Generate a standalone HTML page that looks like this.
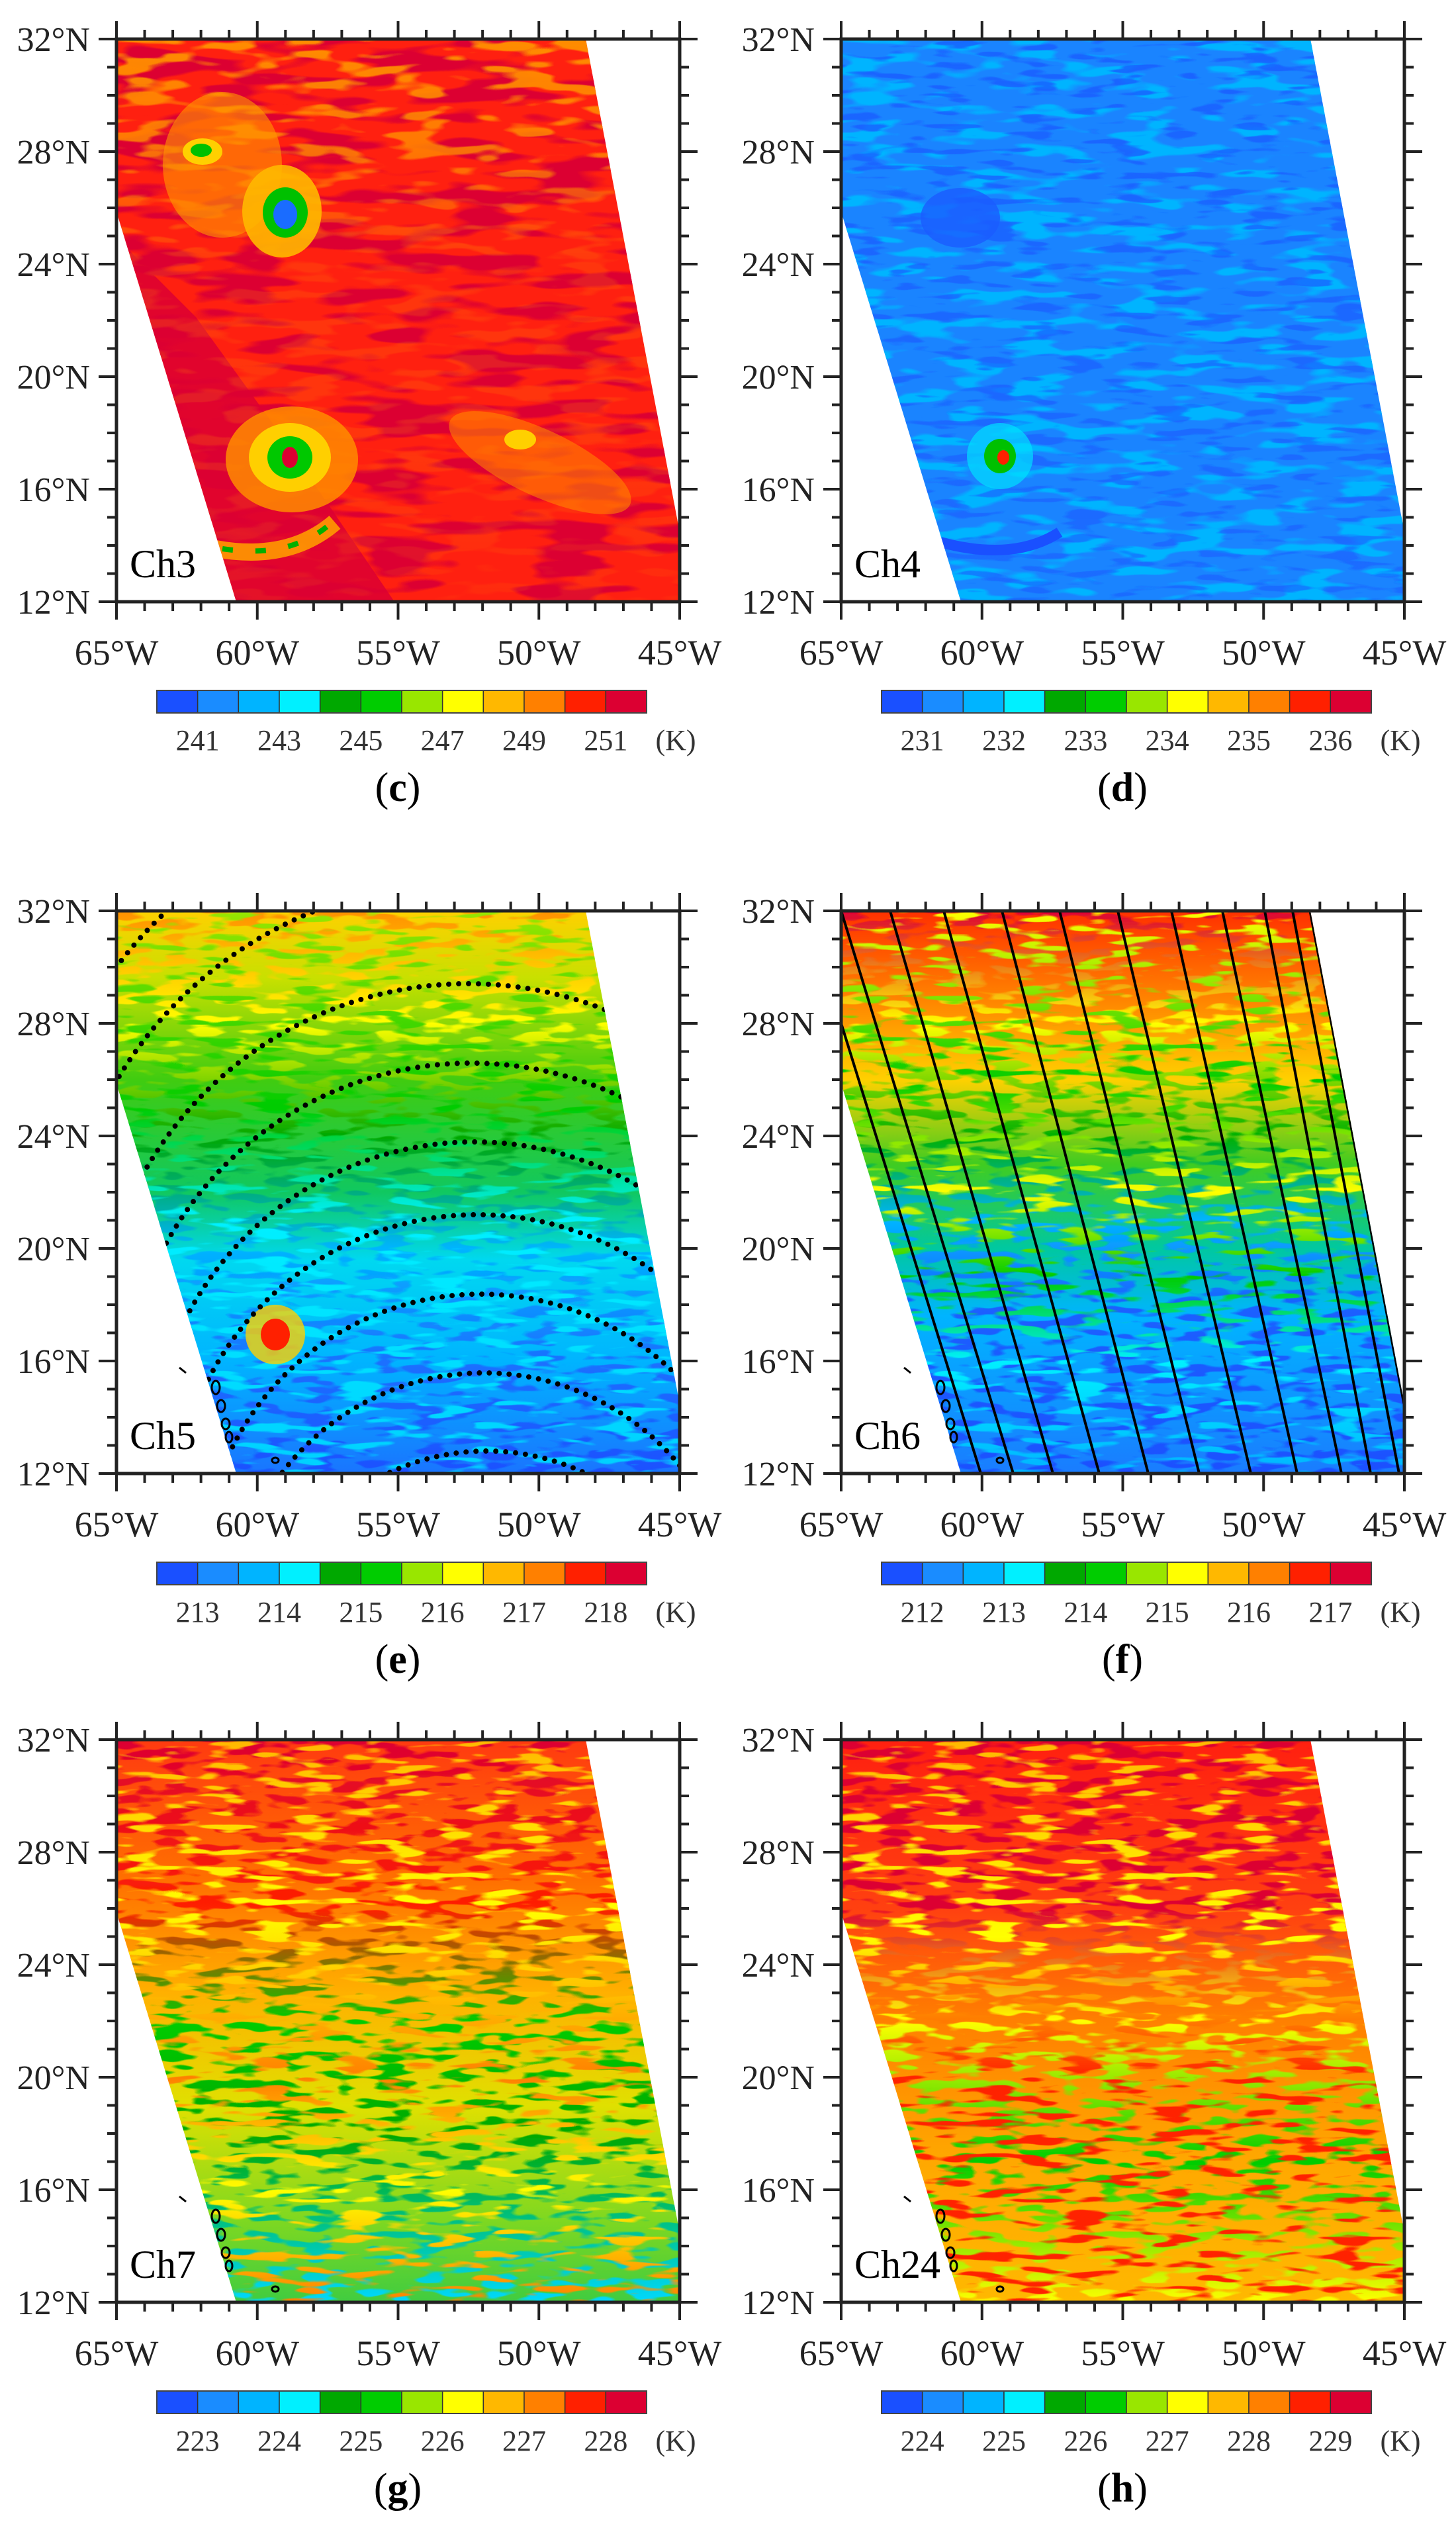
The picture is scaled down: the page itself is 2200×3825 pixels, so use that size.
<!DOCTYPE html>
<html><head><meta charset="utf-8">
<style>html,body{margin:0;padding:0;background:#fff;}svg{display:block;}</style>
</head><body>
<svg id="s" xmlns="http://www.w3.org/2000/svg" width="2200" height="3825" viewBox="0 0 2200 3825"></svg>
<script>
const W=851,H=850;
const CB=['#1a50ff','#1a8cff','#00b4ff','#00f0ff','#00a800','#00cc00','#99e600','#ffff00','#ffb800','#ff8000','#ff2000','#dc0032'];
const sw="0,0 709,0 851,745 851,850 181,850 0,261";
let defs=`<clipPath id="sw"><polygon points="${sw}"/></clipPath>`;
function nf(id,fx,fy,seed,th){defs+=`<filter id="${id}" x="0" y="0" width="1" height="1"><feTurbulence type="fractalNoise" baseFrequency="${fx} ${fy}" numOctaves="2" seed="${seed}"/><feColorMatrix type="matrix" values="0 0 0 0 0 0 0 0 0 0 0 0 0 0 0 10 0 0 0 ${-th}"/><feComposite in="SourceGraphic" operator="in"/></filter>`;}
nf('n1',0.008,0.04,3,5.0);nf('n2',0.012,0.05,7,5.3);nf('n3',0.018,0.07,11,5.2);nf('n4',0.015,0.08,19,5.6);
let gid=0;
function grad(stops){const id='g'+(gid++);defs+=`<linearGradient id="${id}" x1="0" y1="0" x2="0" y2="1">`+stops.map(s=>`<stop offset="${s[0]}" stop-color="${s[1]}" stop-opacity="${s[2]===undefined?1:s[2]}"/>`).join('')+`</linearGradient>`;return id;}
function layer(stops,f){return `<rect x="0" y="0" width="${W}" height="${H}" fill="url(#${grad(stops)})" filter="url(#${f})"/>`;}
function base(stops){return `<rect x="0" y="0" width="${W}" height="${H}" fill="url(#${grad(stops)})"/>`;}
const panels=[
{x:176,y:59,ch:'Ch3',lab:'c',ticks:[241,243,245,247,249,251],
 body:()=>base([[0,'#ff2010']])+layer([[0,'#dc0032'],[1,'#dc0032']],'n1')+
 `<polygon points="0,261 181,850 420,850 250,600 120,420 0,300" fill="#dc0032" opacity="0.85"/>`+
 layer([[0,'#ff8c00',1],[0.2,'#ff8c00',0.8],[0.4,'#ff8c00',0.2],[0.7,'#ff8c00',0.2],[1,'#ff8c00',0.1]],'n2')+
 `<ellipse cx="160" cy="190" rx="90" ry="110" fill="#ff9a00" opacity="0.6"/><ellipse cx="250" cy="260" rx="60" ry="70" fill="#ffb800" opacity="0.9"/><ellipse cx="255" cy="262" rx="34" ry="38" fill="#00c000"/><ellipse cx="255" cy="265" rx="18" ry="22" fill="#1a6cff"/>
 <ellipse cx="130" cy="170" rx="30" ry="20" fill="#ffd000"/><ellipse cx="128" cy="168" rx="16" ry="10" fill="#00c000"/>
 <ellipse cx="265" cy="635" rx="100" ry="80" fill="#ff8c00" opacity="0.85"/><ellipse cx="262" cy="632" rx="62" ry="52" fill="#ffd800" opacity="0.9"/><ellipse cx="262" cy="632" rx="34" ry="32" fill="#00c800"/><ellipse cx="262" cy="632" rx="12" ry="16" fill="#dc0032"/>
 <path d="M150,770 Q260,790 330,730" stroke="#ff9a00" stroke-width="26" fill="none" opacity="0.9"/><path d="M160,770 Q260,785 320,735" stroke="#00b000" stroke-width="8" fill="none" stroke-dasharray="16 34"/>
 <ellipse cx="640" cy="640" rx="150" ry="50" fill="#ff8c00" opacity="0.55" transform="rotate(25 640 640)"/><ellipse cx="610" cy="605" rx="24" ry="15" fill="#ffd000"/>`},
{x:1271,y:59,ch:'Ch4',lab:'d',ticks:[231,232,233,234,235,236],
 body:()=>base([[0,'#1a84ff']])+layer([[0,'#00b4ff'],[1,'#00b4ff']],'n2')+layer([[0,'#1a5cff',0.8],[1,'#1a5cff',0.6]],'n4')+
 `<ellipse cx="180" cy="270" rx="60" ry="45" fill="#1a5cff" opacity="0.8"/><ellipse cx="240" cy="630" rx="50" ry="50" fill="#00e0ff" opacity="0.7"/><ellipse cx="240" cy="630" rx="24" ry="26" fill="#00c000"/><ellipse cx="245" cy="632" rx="9" ry="11" fill="#ff2000"/>
 <path d="M150,760 Q260,790 330,745" stroke="#1a50ff" stroke-width="16" fill="none"/>`},
{x:176,y:1376,ch:'Ch5',lab:'e',ticks:[213,214,215,216,217,218],
 body:()=>base([[0,'#ffd000'],[0.12,'#c8e000'],[0.3,'#40cc10'],[0.5,'#10c860'],[0.62,'#00d8f0'],[0.8,'#00b4ff'],[1,'#1a74ff']])+
 layer([[0,'#ff9000'],[0.2,'#ffff00'],[0.4,'#00a800'],[0.6,'#00b4ff'],[0.8,'#1a70ff'],[1,'#1a50ff']],'n3')+
 layer([[0,'#99e600'],[0.35,'#00cc00'],[0.55,'#00f0ff'],[1,'#00d0ff']],'n4')+
 `<ellipse cx="240" cy="640" rx="45" ry="45" fill="#ffd000" opacity="0.8"/><ellipse cx="240" cy="640" rx="22" ry="24" fill="#ff2000"/>`+
 [-175,-43,110,230,349,459,579,698,816].map(p=>{const r=597-0.306*p,cx=520+0.04*(p+175);return `<circle cx="${cx}" cy="${p+r}" r="${r}" fill="none" stroke="#000" stroke-width="8" stroke-linecap="round" stroke-dasharray="0 15"/>`}).join('')},
{x:1271,y:1376,ch:'Ch6',lab:'f',ticks:[212,213,214,215,216,217],
 body:()=>{let s=base([[0,'#ff3000'],[0.15,'#ff8000'],[0.3,'#ffd000'],[0.45,'#40cc20'],[0.6,'#00c8a0'],[0.72,'#00b4ff'],[1,'#1a7cff']])+
 layer([[0,'#dc0032'],[0.2,'#ffff00'],[0.4,'#00b000'],[0.55,'#00b4ff'],[0.7,'#1a60ff'],[1,'#1a50ff']],'n3')+
 layer([[0,'#ffff00'],[0.3,'#00cc00'],[0.5,'#ffff00'],[0.65,'#00cc00'],[0.8,'#00f0ff'],[1,'#00b4ff']],'n4');
 const T=[0,74,155,243,330,418,499,576,640,682],B=[260,320,390,464,541,619,689,756,800,843];
 s+=`<line x1="0" y1="170" x2="211" y2="850" stroke="#000" stroke-width="4"/>`;
 for(let i=0;i<T.length;i++)s+=`<line x1="${T[i]}" y1="0" x2="${B[i]}" y2="850" stroke="#000" stroke-width="4"/>`;
 s+=`<line x1="709" y1="0" x2="851" y2="745" stroke="#000" stroke-width="5"/>`;return s;}},
{x:176,y:2628,ch:'Ch7',lab:'g',ticks:[223,224,225,226,227,228],
 body:()=>base([[0,'#ff3a10'],[0.25,'#ff7000'],[0.45,'#ffb000'],[0.65,'#e0e000'],[0.85,'#80d820'],[1,'#40cc40']])+
 layer([[0,'#dc0032'],[0.3,'#ff2000'],[0.5,'#00cc00'],[0.7,'#00a800'],[1,'#00d8ff']],'n3')+
 layer([[0,'#ffb800'],[0.3,'#ffff00'],[0.6,'#ff8000'],[0.8,'#ffff00'],[1,'#ff8000']],'n4')},
{x:1271,y:2628,ch:'Ch24',lab:'h',ticks:[224,225,226,227,228,229],
 body:()=>base([[0,'#ff2010'],[0.3,'#ff4010'],[0.5,'#ff8000'],[0.75,'#ffa800'],[1,'#ffb800']])+
 layer([[0,'#dc0032'],[0.3,'#dc0032'],[0.5,'#ffff00'],[0.75,'#00cc00'],[1,'#ffff00']],'n3')+
 layer([[0,'#ffb800'],[0.35,'#ffff00'],[0.6,'#ff2000'],[1,'#ff2000']],'n4')}
];
let out='';
const coast=`<g fill="none" stroke="#000" stroke-width="3"><path d="M95,690 l10,8"/><ellipse cx="150" cy="720" rx="6" ry="10"/><ellipse cx="158" cy="748" rx="6" ry="9"/><ellipse cx="165" cy="775" rx="6" ry="8"/><ellipse cx="170" cy="795" rx="5" ry="8"/><ellipse cx="240" cy="830" rx="5" ry="4"/></g>`;
for(const p of panels){
 let g=`<g transform="translate(${p.x},${p.y})"><g clip-path="url(#sw)">${p.body()}</g>`;
 if(p.lab!=='c'&&p.lab!=='d')g+=coast;
 let t='';
 for(let i=0;i<=20;i++){const x=i*W/20,L=i%5==0?27:14;t+=`<line x1="${x}" y1="${H}" x2="${x}" y2="${H+L}"/><line x1="${x}" y1="0" x2="${x}" y2="${-L}"/>`;}
 for(let i=0;i<=20;i++){const y=i*H/20,L=i%4==0?27:14;t+=`<line x1="0" y1="${y}" x2="${-L}" y2="${y}"/><line x1="${W}" y1="${y}" x2="${W+L}" y2="${y}"/>`;}
 g+=`<g stroke="#222" stroke-width="4">${t}</g><rect x="0" y="0" width="${W}" height="${H}" fill="none" stroke="#222" stroke-width="5"/>`;
 g+=`<g font-family="Liberation Serif,serif" font-size="52" fill="#222">`;
 [32,28,24,20,16,12].forEach((v,i)=>{g+=`<text x="-40" y="${i*H/5+18}" text-anchor="end">${v}°N</text>`;});
 [65,60,55,50,45].forEach((v,i)=>{g+=`<text x="${i*W/4}" y="${H+95}" text-anchor="middle" font-size="54">${v}°W</text>`;});
 g+=`</g><text x="20" y="813" font-family="Liberation Serif,serif" font-size="60" fill="#000">${p.ch}</text>`;
 const cx0=61,cw=740/12;
 CB.forEach((c,i)=>{g+=`<rect x="${cx0+i*cw}" y="984" width="${cw}" height="34" fill="${c}" stroke="#333" stroke-width="1.5"/>`;});
 g+=`<rect x="${cx0}" y="984" width="740" height="34" fill="none" stroke="#444" stroke-width="2"/>`;
 g+=`<g font-family="Liberation Serif,serif" font-size="44" fill="#333" text-anchor="middle">`;
 p.ticks.forEach((v,i)=>{g+=`<text x="${cx0+(1+2*i)*cw}" y="1074">${v}</text>`;});
 g+=`<text x="845" y="1074">(K)</text></g>`;
 g+=`<text x="425" y="1151" text-anchor="middle" font-family="Liberation Serif,serif" font-size="62" fill="#000">(<tspan font-weight="bold">${p.lab}</tspan>)</text>`;
 g+=`</g>`;out+=g;
}
document.getElementById('s').innerHTML=`<defs>${defs}</defs><rect width="2200" height="3825" fill="#fff"/>`+out;
</script>
</body></html>
